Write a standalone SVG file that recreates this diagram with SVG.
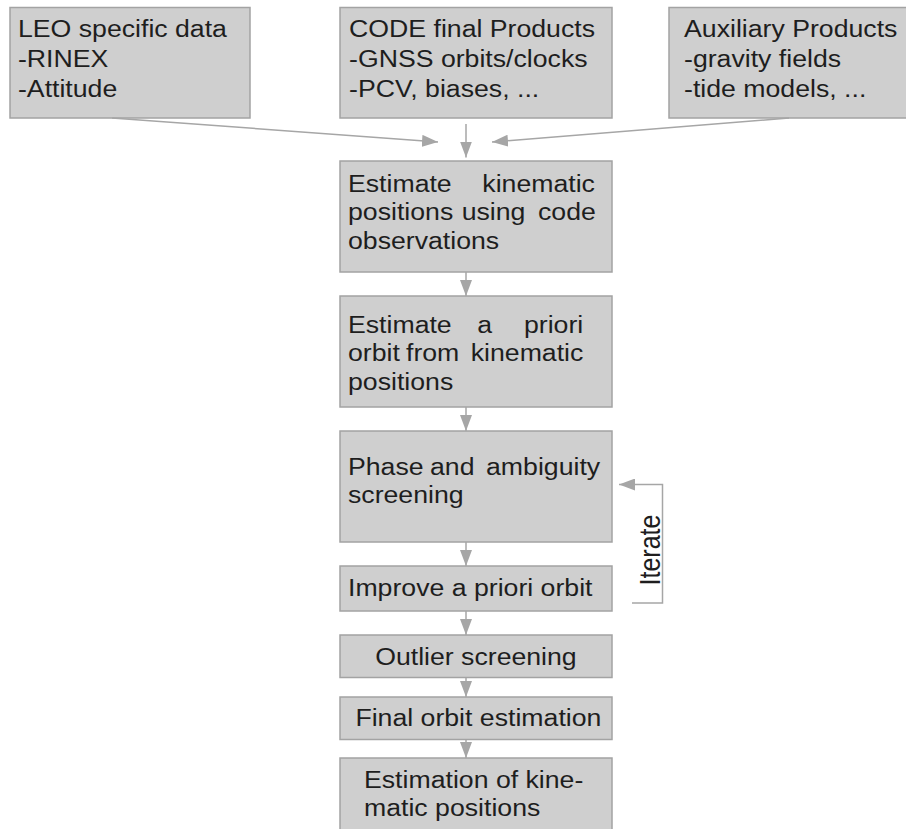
<svg xmlns="http://www.w3.org/2000/svg" width="906" height="829" viewBox="0 0 906 829">
<defs>
<style>
.box{fill:#cfcfcf;stroke:#a3a3a3;stroke-width:1.5}
.t{font-family:"Liberation Sans",Arial,sans-serif;font-size:23px;fill:#1e1e1e}
.c{fill:none;stroke:#a6a6a6;stroke-width:1.5}
</style>
<marker id="ah" markerUnits="userSpaceOnUse" markerWidth="16" markerHeight="12" refX="16" refY="6" orient="auto">
<path d="M0,0 L16,6 L0,12 Z" fill="#a6a6a6"/>
</marker>
</defs>
<rect width="906" height="829" fill="#ffffff"/>
<g id="leo">
<rect class="box" x="10" y="7.5" width="240" height="110.5"/>
<text class="t" transform="scale(1.16,1)"><tspan x="15.5" y="37">LEO specific data</tspan><tspan x="15.5" y="67">-RINEX</tspan><tspan x="15.5" y="97">-Attitude</tspan></text>
</g>
<g id="code">
<rect class="box" x="340" y="7.5" width="272" height="110.5"/>
<text class="t" transform="scale(1.16,1)"><tspan x="300.9" y="37">CODE final Products</tspan><tspan x="300.9" y="67">-GNSS orbits/clocks</tspan><tspan x="300.9" y="97">-PCV, biases, ...</tspan></text>
</g>
<g id="aux">
<rect class="box" x="669" y="7.5" width="250" height="110.5"/>
<text class="t" transform="scale(1.16,1)"><tspan x="589.7" y="37">Auxiliary Products</tspan><tspan x="589.7" y="67">-gravity fields</tspan><tspan x="589.7" y="97">-tide models, ...</tspan></text>
</g>
<g id="kin">
<rect class="box" x="340" y="161" width="272" height="111"/>
<text class="t" transform="scale(1.16,1)"><tspan x="300" y="192">Estimate</tspan><tspan x="415.8" y="192">kinematic</tspan><tspan x="300" y="220.5">positions</tspan><tspan x="398" y="220.5">using</tspan><tspan x="463.8" y="220.5">code</tspan><tspan x="300" y="249">observations</tspan></text>
</g>
<g id="apriori">
<rect class="box" x="340" y="296" width="272" height="111"/>
<text class="t" transform="scale(1.16,1)"><tspan x="300" y="333">Estimate</tspan><tspan x="411.5" y="333">a</tspan><tspan x="451.7" y="333">priori</tspan><tspan x="300" y="361.5">orbit</tspan><tspan x="350" y="361.5">from</tspan><tspan x="405.8" y="361.5">kinematic</tspan><tspan x="300" y="390">positions</tspan></text>
</g>
<g id="phase">
<rect class="box" x="340" y="431" width="272" height="111"/>
<text class="t" transform="scale(1.16,1)"><tspan x="300" y="475">Phase</tspan><tspan x="370.7" y="475">and</tspan><tspan x="419" y="475">ambiguity</tspan><tspan x="300" y="503">screening</tspan></text>
</g>
<g id="improve">
<rect class="box" x="340" y="566" width="272" height="45"/>
<text class="t" transform="scale(1.16,1)" x="300" y="596">Improve a priori orbit</text>
</g>
<g id="outlier">
<rect class="box" x="340" y="635" width="272" height="42.5"/>
<text class="t" transform="scale(1.16,1)" x="410.3" y="665" text-anchor="middle">Outlier screening</text>
</g>
<g id="final">
<rect class="box" x="340" y="697" width="272" height="42.5"/>
<text class="t" transform="scale(1.16,1)" x="412.4" y="726" text-anchor="middle">Final orbit estimation</text>
</g>
<g id="kinpos">
<rect class="box" x="340" y="758" width="272" height="90"/>
<text class="t" transform="scale(1.16,1)"><tspan x="313.8" y="788">Estimation of kine-</tspan><tspan x="313.8" y="816">matic positions</tspan></text>
</g>
<g id="iterate-label">
<text class="t" transform="translate(660,550) scale(1.16,1) rotate(-90)" x="0" y="0" text-anchor="middle" style="font-size:25px">Iterate</text>
</g>
<g id="connectors">
<path class="c" d="M112,118 L438,142" marker-end="url(#ah)"/>
<path class="c" d="M466,124 L466,157.5" marker-end="url(#ah)"/>
<path class="c" d="M789,118 L492,142" marker-end="url(#ah)"/>
<path class="c" d="M466,272 L466,296" marker-end="url(#ah)"/>
<path class="c" d="M466,407 L466,431" marker-end="url(#ah)"/>
<path class="c" d="M466,542 L466,566" marker-end="url(#ah)"/>
<path class="c" d="M466,611 L466,635" marker-end="url(#ah)"/>
<path class="c" d="M466,677.5 L466,697" marker-end="url(#ah)"/>
<path class="c" d="M466,739.5 L466,758" marker-end="url(#ah)"/>
<path class="c" d="M632,603 L662.5,603 L662.5,484.5 L619,484.5" marker-end="url(#ah)"/>
</g>
</svg>
